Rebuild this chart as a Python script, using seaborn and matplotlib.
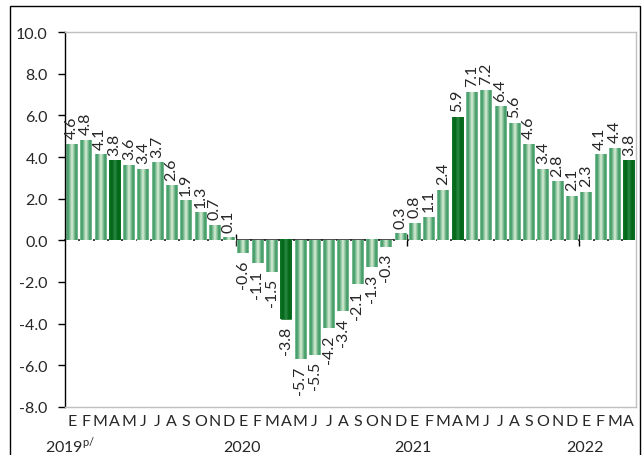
import numpy as np
import pandas as pd
import matplotlib
matplotlib.use("Agg")
import matplotlib.pyplot as plt
import seaborn as sns
from matplotlib.patches import Rectangle
from matplotlib.ticker import FormatStrFormatter

# datos: variación anual (%), enero 2019 - abril 2022
valores_2019 = [4.6, 4.8, 4.1, 3.8, 3.6, 3.4, 3.7, 2.6, 1.9, 1.3, 0.7, 0.1]
valores_2020 = [-0.6, -1.1, -1.5, -3.8, -5.7, -5.5, -4.2, -3.4, -2.1, -1.3, -0.3, 0.3]
valores_2021 = [0.8, 1.1, 2.4, 5.9, 7.1, 7.2, 6.4, 5.6, 4.6, 3.4, 2.8, 2.1]
valores_2022 = [2.3, 4.1, 4.4, 3.8]
meses = ["E", "F", "M", "A", "M", "J", "J", "A", "S", "O", "N", "D"]
anios = [r"2019$^{\mathrm{p/}}$", "2020", "2021", "2022"]

valores = valores_2019 + valores_2020 + valores_2021 + valores_2022
n = len(valores)
etiquetas_mes = [meses[i % 12] for i in range(n)]
tipo = ["abril" if i % 12 == 3 else "normal" for i in range(n)]
df = pd.DataFrame({"pos": range(n), "valor": valores, "tipo": tipo})

sns.set_theme(style="white")
plt.rcParams["font.family"] = ["Lato", "DejaVu Sans"]
plt.rcParams["mathtext.fontset"] = "custom"
plt.rcParams["mathtext.rm"] = "Lato"
plt.rcParams["axes.unicode_minus"] = False
fs = 11.5

fig = plt.figure(figsize=(6.42, 4.56), dpi=100)
ax = fig.add_axes([64.5 / 642, 1 - 408 / 456, (636 - 64.5) / 642, (408 - 33) / 456])

colores = {"normal": "#3a9a66", "abril": "#0b6e22"}
sns.barplot(data=df, x="pos", y="valor", hue="tipo", palette=colores,
            width=0.8, saturation=1, legend=False, ax=ax)

# etiquetas de valor
for c in ax.containers:
    ax.bar_label(c, fmt="%.1f", rotation=90, padding=4.5, fontsize=fs)


# relleno degradado como en Excel
def degradado(paradas, k=64):
    t = np.linspace(0, 1, k)
    pos = np.array([p for p, _ in paradas])
    cols = np.array([matplotlib.colors.to_rgb(c) for _, c in paradas])
    rgb = np.stack([np.interp(t, pos, cols[:, i]) for i in range(3)], axis=1)
    return rgb[None, :, :]


img_normal = degradado([(0, "#8cc69f"), (0.15, "#36955f"), (0.5, "#dcefd8"),
                        (0.85, "#36955f"), (1, "#86c299")])
img_abril = degradado([(0, "#12782c"), (0.25, "#006414"), (0.5, "#2c8a45"),
                       (0.75, "#006414"), (1, "#0d7026")])
oscuro = np.array(matplotlib.colors.to_rgb(colores["abril"]))
for p in list(ax.patches):
    bb = p.get_bbox()
    x0, x1 = sorted([bb.x0, bb.x1])
    y0, y1 = sorted([bb.y0, bb.y1])
    es_abril = np.allclose(p.get_facecolor()[:3], oscuro, atol=0.02)
    ax.imshow(img_abril if es_abril else img_normal, extent=(x0, x1, y0, y1),
              aspect="auto", interpolation="bilinear", zorder=p.get_zorder() + 0.1)

ax.set_xlim(-0.5, n - 0.5)
ax.set_ylim(-8, 10)
ax.set_xlabel("")
ax.set_ylabel("")

ax.set_yticks(np.arange(-8, 10.1, 2))
ax.yaxis.set_major_formatter(FormatStrFormatter("%.1f"))
ax.tick_params(axis="y", direction="out", length=5, width=1, color="black",
               labelsize=fs, pad=7, left=True)
ax.set_xticks(range(n), labels=etiquetas_mes)
ax.tick_params(axis="x", length=0, pad=5, labelsize=fs)

for s in ["top", "right", "bottom"]:
    ax.spines[s].set_color("#bfbfbf")
    ax.spines[s].set_linewidth(1)
ax.spines["left"].set_color("black")
ax.spines["left"].set_linewidth(1)

# eje en cero con marcas entre años
cero = (0 - (-8)) / (10 - (-8))
sec = ax.secondary_xaxis(cero)
sec.set_xticks([11.5, 23.5, 35.5], labels=["", "", ""])
sec.tick_params(direction="inout", length=9, width=1, color="black")
sec.spines["bottom"].set_color("black")
sec.spines["bottom"].set_linewidth(1.2)

for j, a in enumerate(anios):
    ax.annotate(a, xy=(12 * j - 0.1, 0), xycoords=("data", "axes fraction"),
                xytext=(0, -32), textcoords="offset points",
                ha="center", va="baseline", fontsize=fs)

fig.add_artist(Rectangle((10 / 642, -0.05), 630 / 642, (456 - 7) / 456 + 0.05,
                         transform=fig.transFigure, fill=False, ec="black", lw=1))

fig.savefig("out.png", dpi=100)
